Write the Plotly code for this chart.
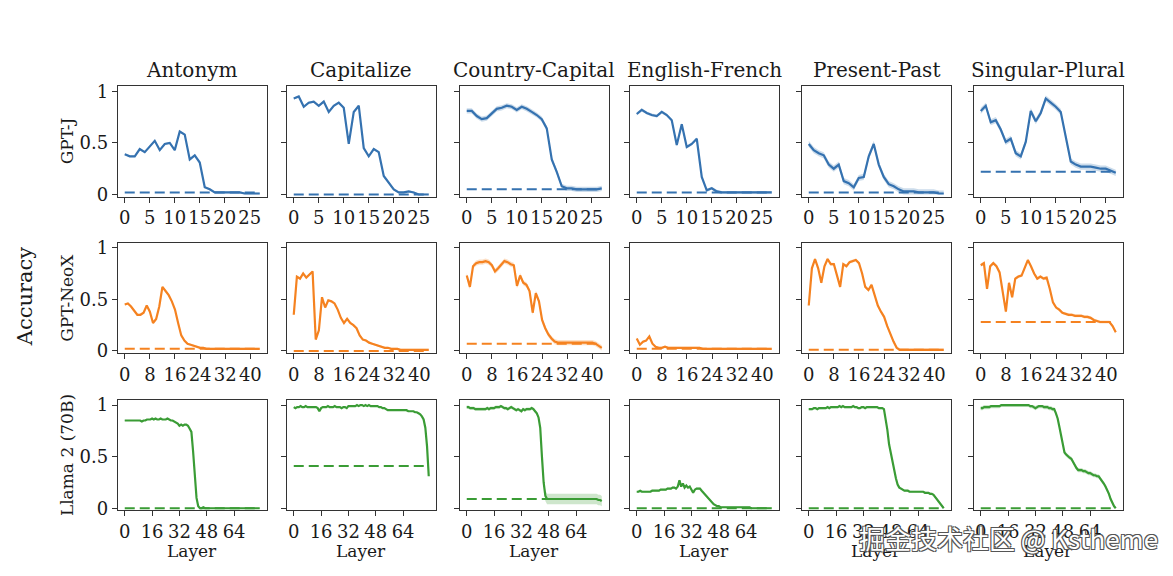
import plotly.graph_objects as go

W, H = 1173, 576

TASKS = ["Antonym", "Capitalize", "Country-Capital", "English-French", "Present-Past", "Singular-Plural"]
MODELS = ["GPT-J", "GPT-NeoX", "Llama 2 (70B)"]
COLORS = ["#3572b0", "#f58220", "#3a9c35"]
FILLS = ["rgba(53,114,176,0.25)", "rgba(245,130,32,0.25)", "rgba(58,156,53,0.25)"]
N_LAYERS = [28, 44, 80]
X_TICKS = [[0, 5, 10, 15, 20, 25], [0, 8, 16, 24, 32, 40], [0, 16, 32, 48, 64]]

# ---- GPT-J (28 layers) ----
gptj_antonym = [0.39, 0.37, 0.37, 0.44, 0.41, 0.46, 0.52, 0.43, 0.49, 0.50,
                0.43, 0.61, 0.58, 0.34, 0.38, 0.31, 0.07, 0.05, 0.02, 0.02,
                0.02, 0.02, 0.02, 0.02, 0.01, 0.01, 0.01, 0.01]
gptj_capitalize = [0.93, 0.95, 0.85, 0.89, 0.90, 0.86, 0.90, 0.80, 0.86, 0.89,
                   0.84, 0.49, 0.80, 0.86, 0.45, 0.37, 0.44, 0.41, 0.18, 0.11,
                   0.05, 0.02, 0.02, 0.03, 0.02, 0.00, 0.00, 0.00]
gptj_country_capital = [0.81, 0.81, 0.76, 0.73, 0.74, 0.79, 0.83, 0.84, 0.86, 0.85,
                        0.82, 0.85, 0.83, 0.80, 0.77, 0.73, 0.64, 0.34, 0.22, 0.08,
                        0.06, 0.06, 0.05, 0.05, 0.05, 0.05, 0.05, 0.06]
gptj_english_french = [0.78, 0.82, 0.79, 0.77, 0.76, 0.80, 0.77, 0.72, 0.48, 0.68,
                       0.46, 0.49, 0.54, 0.17, 0.04, 0.06, 0.03, 0.02, 0.02, 0.02,
                       0.02, 0.02, 0.02, 0.02, 0.02, 0.02, 0.02, 0.02]
gptj_present_past = [0.49, 0.43, 0.40, 0.38, 0.29, 0.25, 0.29, 0.13, 0.11, 0.07,
                     0.16, 0.17, 0.37, 0.49, 0.29, 0.17, 0.10, 0.08, 0.05, 0.03,
                     0.03, 0.03, 0.02, 0.02, 0.02, 0.02, 0.01, 0.01]
gptj_singular_plural = [0.81, 0.86, 0.70, 0.72, 0.63, 0.51, 0.54, 0.40, 0.37, 0.51,
                        0.81, 0.71, 0.79, 0.93, 0.89, 0.85, 0.80, 0.56, 0.32, 0.29,
                        0.27, 0.27, 0.27, 0.26, 0.25, 0.25, 0.23, 0.21]

# ---- GPT-NeoX (44 layers) ----
neox_antonym = [0.45, 0.46, 0.43, 0.39, 0.35, 0.35, 0.37, 0.44, 0.38, 0.27,
                0.31, 0.43, 0.62, 0.58, 0.54, 0.48, 0.40, 0.27, 0.15, 0.10,
                0.07, 0.06, 0.05, 0.04, 0.03, 0.03, 0.02, 0.02, 0.02, 0.02,
                0.02, 0.02, 0.02, 0.02, 0.02, 0.02, 0.02, 0.02, 0.02, 0.02,
                0.02, 0.02, 0.02, 0.02]
neox_capitalize = [0.35, 0.72, 0.70, 0.75, 0.71, 0.74, 0.77, 0.11, 0.20, 0.52,
                   0.42, 0.49, 0.48, 0.46, 0.40, 0.32, 0.27, 0.31, 0.27, 0.25,
                   0.22, 0.15, 0.11, 0.10, 0.08, 0.07, 0.06, 0.05, 0.04, 0.03,
                   0.03, 0.02, 0.02, 0.02, 0.01, 0.01, 0.01, 0.01, 0.01, 0.01,
                   0.01, 0.01, 0.01, 0.01]
neox_country_capital = [0.73, 0.62, 0.82, 0.85, 0.86, 0.86, 0.87, 0.86, 0.83, 0.77,
                        0.80, 0.84, 0.87, 0.86, 0.84, 0.83, 0.63, 0.73, 0.66, 0.64,
                        0.58, 0.37, 0.56, 0.48, 0.30, 0.22, 0.16, 0.12, 0.09, 0.08,
                        0.08, 0.08, 0.08, 0.08, 0.08, 0.08, 0.08, 0.08, 0.08, 0.08,
                        0.08, 0.07, 0.05, 0.03]
neox_english_french = [0.12, 0.06, 0.09, 0.10, 0.14, 0.07, 0.04, 0.03, 0.03, 0.04,
                       0.03, 0.03, 0.03, 0.03, 0.03, 0.03, 0.03, 0.03, 0.03, 0.03,
                       0.03, 0.02, 0.02, 0.02, 0.02, 0.02, 0.02, 0.02, 0.02, 0.02,
                       0.02, 0.02, 0.02, 0.02, 0.02, 0.02, 0.02, 0.02, 0.02, 0.02,
                       0.02, 0.02, 0.02, 0.02]
neox_present_past = [0.44, 0.80, 0.89, 0.80, 0.66, 0.82, 0.89, 0.84, 0.84, 0.74,
                     0.62, 0.84, 0.82, 0.86, 0.87, 0.88, 0.85, 0.75, 0.62, 0.59,
                     0.64, 0.55, 0.44, 0.38, 0.33, 0.24, 0.16, 0.09, 0.03, 0.01,
                     0.01, 0.01, 0.01, 0.01, 0.01, 0.01, 0.01, 0.01, 0.01, 0.01,
                     0.01, 0.01, 0.01, 0.01]
neox_singular_plural = [0.83, 0.85, 0.60, 0.82, 0.85, 0.82, 0.76, 0.57, 0.38, 0.66,
                        0.52, 0.70, 0.72, 0.73, 0.80, 0.88, 0.82, 0.75, 0.70, 0.72,
                        0.70, 0.71, 0.60, 0.47, 0.42, 0.40, 0.37, 0.36, 0.35, 0.35,
                        0.34, 0.34, 0.34, 0.33, 0.33, 0.32, 0.30, 0.29, 0.28, 0.28,
                        0.28, 0.28, 0.24, 0.18]

# ---- Llama 2 70B (80 layers) ----
llama_antonym = [0.85, 0.85, 0.85, 0.85, 0.85, 0.85, 0.85, 0.85, 0.85, 0.85,
                 0.84, 0.85, 0.85, 0.86, 0.86, 0.86, 0.87, 0.86, 0.87, 0.86,
                 0.86, 0.87, 0.86, 0.86, 0.86, 0.87, 0.86, 0.85, 0.85, 0.84,
                 0.83, 0.82, 0.80, 0.81, 0.80, 0.81, 0.81, 0.80, 0.77, 0.74,
                 0.55, 0.27, 0.10, 0.02, 0.00, 0.00, 0.01, 0.00, 0.00, 0.00,
                 0.00, 0.00, 0.00, 0.00, 0.00, 0.00, 0.00, 0.00, 0.00, 0.00,
                 0.00, 0.00, 0.00, 0.00, 0.00, 0.00, 0.00, 0.00, 0.00, 0.00,
                 0.00, 0.00, 0.00, 0.00, 0.00, 0.00, 0.00, 0.00, 0.00, 0.00]
llama_capitalize = [0.98, 0.97, 0.98, 0.98, 0.99, 0.98, 0.98, 0.99, 0.98, 0.98,
                    0.98, 0.98, 0.98, 0.98, 0.97, 0.94, 0.97, 0.98, 0.98, 0.98,
                    0.99, 0.98, 0.98, 0.98, 0.99, 0.98, 0.98, 0.98, 0.97, 0.98,
                    0.98, 0.97, 0.99, 0.99, 0.99, 0.99, 0.99, 1.00, 0.99, 1.00,
                    1.00, 0.99, 1.00, 0.99, 1.00, 0.99, 0.99, 0.99, 0.99, 0.99,
                    0.98, 0.98, 0.97, 0.97, 0.96, 0.95, 0.95, 0.95, 0.95, 0.95,
                    0.95, 0.95, 0.95, 0.95, 0.95, 0.95, 0.95, 0.94, 0.94, 0.94,
                    0.94, 0.93, 0.93, 0.92, 0.91, 0.89, 0.86, 0.78, 0.60, 0.31]
llama_country_capital = [0.98, 0.98, 0.97, 0.97, 0.97, 0.96, 0.96, 0.96, 0.96, 0.96,
                         0.96, 0.96, 0.97, 0.96, 0.97, 0.97, 0.97, 0.98, 0.98, 0.98,
                         0.99, 0.98, 0.97, 0.97, 0.96, 0.97, 0.98, 0.97, 0.96, 0.95,
                         0.96, 0.95, 0.94, 0.96, 0.95, 0.96, 0.96, 0.96, 0.97, 0.96,
                         0.94, 0.92, 0.88, 0.78, 0.50, 0.25, 0.12, 0.09, 0.09, 0.09,
                         0.09, 0.09, 0.09, 0.09, 0.09, 0.09, 0.09, 0.09, 0.09, 0.09,
                         0.09, 0.09, 0.09, 0.09, 0.09, 0.09, 0.09, 0.09, 0.09, 0.09,
                         0.09, 0.09, 0.09, 0.09, 0.09, 0.09, 0.09, 0.08, 0.08, 0.07]
llama_english_french = [0.16, 0.16, 0.17, 0.16, 0.16, 0.16, 0.16, 0.16, 0.16, 0.17,
                        0.17, 0.17, 0.17, 0.17, 0.18, 0.18, 0.18, 0.18, 0.19, 0.19,
                        0.19, 0.20, 0.20, 0.19, 0.21, 0.27, 0.21, 0.24, 0.20, 0.22,
                        0.20, 0.21, 0.18, 0.15, 0.18, 0.19, 0.19, 0.19, 0.17, 0.15,
                        0.13, 0.11, 0.09, 0.07, 0.05, 0.04, 0.03, 0.02, 0.02, 0.01,
                        0.01, 0.01, 0.01, 0.01, 0.01, 0.01, 0.01, 0.01, 0.01, 0.01,
                        0.01, 0.01, 0.01, 0.01, 0.01, 0.01, 0.01, 0.00, 0.00, 0.00,
                        0.00, 0.00, 0.00, 0.00, 0.00, 0.00, 0.00, 0.00, 0.00, 0.00]
llama_present_past = [0.96, 0.96, 0.96, 0.97, 0.97, 0.96, 0.97, 0.97, 0.97, 0.97,
                      0.97, 0.98, 0.97, 0.98, 0.98, 0.98, 0.98, 0.98, 0.99, 0.98,
                      0.99, 0.98, 0.98, 0.98, 0.98, 0.98, 0.99, 0.98, 0.98, 0.97,
                      0.97, 0.98, 0.98, 0.97, 0.98, 0.98, 0.98, 0.98, 0.98, 0.98,
                      0.98, 0.97, 0.97, 0.97, 0.96, 0.87, 0.76, 0.62, 0.53, 0.45,
                      0.38, 0.29, 0.23, 0.20, 0.19, 0.18, 0.17, 0.17, 0.17, 0.16,
                      0.16, 0.16, 0.16, 0.16, 0.16, 0.16, 0.16, 0.16, 0.15, 0.15,
                      0.15, 0.14, 0.14, 0.13, 0.11, 0.09, 0.07, 0.05, 0.02, 0.00]
llama_singular_plural = [0.97, 0.97, 0.98, 0.98, 0.98, 0.98, 0.99, 0.99, 0.99, 0.99,
                         0.99, 0.99, 1.00, 1.00, 1.00, 1.00, 1.00, 1.00, 1.00, 1.00,
                         1.00, 1.00, 1.00, 1.00, 1.00, 1.00, 1.00, 1.00, 1.00, 0.99,
                         0.99, 0.98, 0.97, 0.98, 0.99, 0.99, 0.99, 0.98, 0.98, 0.98,
                         0.97, 0.97, 0.96, 0.96, 0.92, 0.87, 0.79, 0.71, 0.60, 0.54,
                         0.52, 0.50, 0.49, 0.48, 0.45, 0.41, 0.39, 0.37, 0.37, 0.37,
                         0.36, 0.36, 0.35, 0.34, 0.34, 0.33, 0.32, 0.32, 0.31, 0.31,
                         0.29, 0.27, 0.24, 0.21, 0.18, 0.14, 0.09, 0.05, 0.02, 0.00]

# dashed baselines, one per task
gptj_baseline = [0.02, 0.00, 0.05, 0.02, 0.02, 0.22]
neox_baseline = [0.02, 0.00, 0.07, 0.02, 0.01, 0.28]
llama_baseline = [0.00, 0.41, 0.09, 0.00, 0.00, 0.00]

# half-width of the shaded spread, one per task
gptj_spread = [0.01, 0.01, 0.025, 0.015, 0.03, 0.03]
neox_spread = [0.01, 0.01, 0.025, 0.01, 0.015, 0.015]
llama_spread = [0.005, 0.005, 0.015, 0.01, 0.01, 0.02]
llama_country_capital_late_spread = 0.05

CURVES = [
    [gptj_antonym, gptj_capitalize, gptj_country_capital,
     gptj_english_french, gptj_present_past, gptj_singular_plural],
    [neox_antonym, neox_capitalize, neox_country_capital,
     neox_english_french, neox_present_past, neox_singular_plural],
    [llama_antonym, llama_capitalize, llama_country_capital,
     llama_english_french, llama_present_past, llama_singular_plural],
]
BASELINES = [gptj_baseline, neox_baseline, llama_baseline]
SPREADS = [gptj_spread, neox_spread, llama_spread]

FONT = "DejaVu Serif"
LINE = "#333333"

# panel boxes, in page pixels
COL_LEFT = [118, 287, 460, 630, 802, 974]
COL_W = 148.5
ROW_TOP = [83, 243, 404]
ROW_H = 113


def px(x):
    return x / W


def py(y):
    return 1 - y / H


def note(text, x, y, size, angle=0, **font_extra):
    return dict(text=text, x=px(x), y=py(y), xref="paper", yref="paper",
                xanchor="center", yanchor="middle", showarrow=False, textangle=angle,
                font=dict(family=font_extra.pop("family", FONT), size=size,
                          color=font_extra.pop("color", "#1a1a1a"), **font_extra))


fig = go.Figure()
layout = {}
annotations = []

for r in range(3):
    n = N_LAYERS[r]
    layers = list(range(n))
    for c in range(6):
        idx = r * 6 + c + 1
        xs = "x" if idx == 1 else f"x{idx}"
        ys = "y" if idx == 1 else f"y{idx}"
        vals = CURVES[r][c]

        spread = [SPREADS[r][c]] * n
        if r == 2 and c == 2:
            spread = [SPREADS[r][c] if l < 46 else llama_country_capital_late_spread for l in layers]
        upper = [min(v + s, 1.0) for v, s in zip(vals, spread)]
        lower = [max(v - s, 0.0) for v, s in zip(vals, spread)]

        fig.add_trace(go.Scatter(x=layers, y=upper, xaxis=xs, yaxis=ys, mode="lines",
                                 line=dict(width=0), hoverinfo="skip", showlegend=False))
        fig.add_trace(go.Scatter(x=layers, y=lower, xaxis=xs, yaxis=ys, mode="lines",
                                 line=dict(width=0), fill="tonexty", fillcolor=FILLS[r],
                                 hoverinfo="skip", showlegend=False))
        fig.add_trace(go.Scatter(x=[0, n - 1], y=[BASELINES[r][c]] * 2, xaxis=xs, yaxis=ys,
                                 mode="lines", showlegend=False,
                                 line=dict(color=COLORS[r], width=2, dash="10px,5px")))
        fig.add_trace(go.Scatter(x=layers, y=vals, xaxis=xs, yaxis=ys, mode="lines",
                                 showlegend=False, line=dict(color=COLORS[r], width=2.2)))

        x0, x1 = px(COL_LEFT[c]), px(COL_LEFT[c] + COL_W)
        y1, y0 = py(ROW_TOP[r]), py(ROW_TOP[r] + ROW_H)
        pad = 0.05 * (n - 1)
        common = dict(showline=True, mirror=True, linecolor=LINE, linewidth=1.3,
                      ticks="outside", ticklen=5, tickcolor=LINE, showgrid=False,
                      zeroline=False, tickfont=dict(family=FONT, size=18, color="#1a1a1a"))
        layout["xaxis" if idx == 1 else f"xaxis{idx}"] = dict(
            domain=[x0, x1], anchor=ys, range=[-pad, n - 1 + pad],
            tickvals=X_TICKS[r], **common)
        layout["yaxis" if idx == 1 else f"yaxis{idx}"] = dict(
            domain=[y0, y1], anchor=xs, range=[-0.02, 1.05],
            tickvals=[0, 0.5, 1], ticktext=["0", "0.5", "1"],
            showticklabels=(c == 0), **common)

        center = COL_LEFT[c] + COL_W / 2
        if r == 0:
            annotations.append(note(TASKS[c], center, 67, 20))
        if r == 2:
            annotations.append(note("Layer", center, 559, 17))
    annotations.append(note(MODELS[r], 67, ROW_TOP[r] + ROW_H / 2, 17, angle=-90))

annotations.append(note("Accuracy", 25, 298, 21, angle=-90))
annotations.append(note("掘金技术社区 @ Kstheme", 1008, 545, 26, family="Noto Sans CJK SC",
                        color="white",
                        shadow="-1px -1px 0 #555, 1px -1px 0 #555, -1px 1px 0 #555, 1px 1px 0 #555"))

fig.update_layout(width=W, height=H, margin=dict(l=0, r=0, t=0, b=0),
                  paper_bgcolor="white", plot_bgcolor="white",
                  annotations=annotations, **layout)

# drop the browser's default page margin so the figure fills the window exactly
fig.write_html("out.html", config={"displayModeBar": False}, post_script=(
    "document.body.style.margin='0';"
    "document.documentElement.style.overflow='hidden';"
))
